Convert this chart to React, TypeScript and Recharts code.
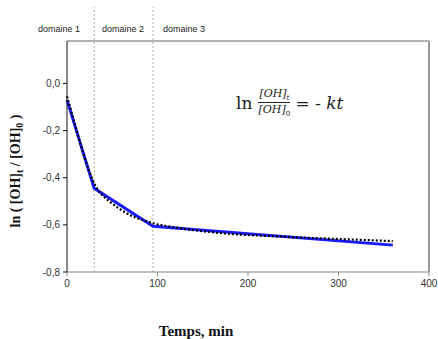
import React from 'react';
import { LineChart, Line, XAxis, YAxis, ReferenceLine } from 'recharts';

// experimental points (black dotted)
const timeMeas = [0, 3, 6, 9, 12, 15, 18, 21, 24, 27, 30, 35, 40, 45, 50, 55, 60, 65, 70, 75, 80, 85, 90, 95, 100, 110, 120, 130, 140, 150, 160, 170, 180, 190, 200, 220, 240, 260, 280, 300, 320, 340, 360];
const lnMeas = [-0.055, -0.095, -0.135, -0.178, -0.22, -0.26, -0.298, -0.333, -0.367, -0.397, -0.425, -0.458, -0.478, -0.495, -0.51, -0.524, -0.537, -0.549, -0.559, -0.568, -0.575, -0.581, -0.587, -0.593, -0.598, -0.605, -0.611, -0.617, -0.622, -0.627, -0.631, -0.635, -0.638, -0.641, -0.643, -0.647, -0.65, -0.654, -0.657, -0.66, -0.663, -0.666, -0.669];

// piecewise linear fit (blue)
const timeFit = [0, 30, 95, 360];
const lnFit = [-0.07, -0.445, -0.606, -0.686];

const domainBounds = [30, 95];
const domainLabels = ['domaine 1', 'domaine 2', 'domaine 3'];
const xTicks = [0, 100, 200, 300, 400];
const yTicks = [-0.8, -0.6, -0.4, -0.2, 0];

const measData = timeMeas.map((t, i) => ({ t, v: lnMeas[i] }));
const fitData = timeFit.map((t, i) => ({ t, v: lnFit[i] }));

const fmtY = (v: number) => (Math.abs(v) < 1e-9 ? '0,0' : v.toFixed(1).replace('.', ','));

const YLabel = () => {
    const cx = 15;
    const cy = 171;
    return (
        <text x={cx} y={cy} transform={`rotate(-90 ${cx} ${cy})`} textAnchor="middle" dominantBaseline="central"
            style={{ fontFamily: '"Liberation Serif", serif', fontWeight: 'bold', fontSize: 14, fill: '#111' }}>
            <tspan>ln ( [OH]</tspan>
            <tspan fontSize={10} dy={4}>t</tspan>
            <tspan dy={-4}> / [OH]</tspan>
            <tspan fontSize={10} dy={4}>0</tspan>
            <tspan dy={-4}> )</tspan>
        </text>
    );
};

const XLabel = () => (
    <text x={196} y={331} textAnchor="middle" dominantBaseline="central"
        style={{ fontFamily: '"Liberation Serif", serif', fontWeight: 'bold', fontSize: 15, fill: '#111' }}>
        Temps, min
    </text>
);

const tickStyle = { fontFamily: '"Liberation Sans", Arial, sans-serif', fontSize: 10, fill: '#333' };

export default function App() {
    const labelX = [59, 123, 184];
    return (
        <div style={{ position: 'absolute', left: 0, top: 0, width: 438, height: 339, background: '#fff' }}>
            <LineChart width={438} height={339} margin={{ top: 41, right: 9, bottom: 37, left: 0 }}>
                <XAxis type="number" dataKey="t" domain={[0, 400]} ticks={xTicks} tick={tickStyle}
                    stroke="#888" tickSize={4} tickMargin={4} allowDuplicatedCategory={false}
                    label={<XLabel />} />
                <YAxis type="number" domain={[-0.8, 0.18]} ticks={yTicks} width={67} tick={tickStyle}
                    tickFormatter={fmtY} stroke="#111" tickSize={4} tickMargin={3} label={<YLabel />} />
                <ReferenceLine y={0.18} stroke="#999" strokeWidth={1.5} />
                <ReferenceLine x={400} stroke="#999" strokeWidth={2} />
                {domainBounds.map((b) => (
                    <ReferenceLine key={b} ifOverflow="visible" segment={[{ x: b, y: -0.8 }, { x: b, y: 0.323 }]}
                        stroke="#b5ad96" strokeDasharray="2 2" strokeWidth={1} />
                ))}
                <Line data={fitData} dataKey="v" type="linear" stroke="#1a1aff" strokeWidth={3} dot={false} isAnimationActive={false} />
                <Line data={measData} dataKey="v" type="linear" stroke="#000" strokeWidth={2.2} strokeDasharray="2 2" dot={false} isAnimationActive={false} />
            </LineChart>
            {domainLabels.map((d, i) => (
                <div key={d} style={{ position: 'absolute', left: labelX[i] - 30, width: 60, top: 24, textAlign: 'center', fontFamily: '"Liberation Sans", Arial, sans-serif', fontSize: 9, color: '#222' }}>{d}</div>
            ))}
            <div style={{ position: 'absolute', left: 236, top: 87, display: 'flex', alignItems: 'center', fontFamily: '"DejaVu Serif", "Liberation Serif", serif', color: '#222' }}>
                <span style={{ fontSize: 17, marginRight: 6 }}>ln</span>
                <span style={{ display: 'inline-flex', flexDirection: 'column', alignItems: 'center', fontSize: 11, fontStyle: 'italic', marginRight: 5 }}>
                    <span style={{ borderBottom: '1px solid #222', padding: '0 1px' }}>[OH]<sub style={{ fontSize: 7 }}>t</sub></span>
                    <span>[OH]<sub style={{ fontSize: 7, fontStyle: 'normal' }}>0</sub></span>
                </span>
                <span style={{ fontSize: 17 }}>= - <i>kt</i></span>
            </div>
        </div>
    );
}
